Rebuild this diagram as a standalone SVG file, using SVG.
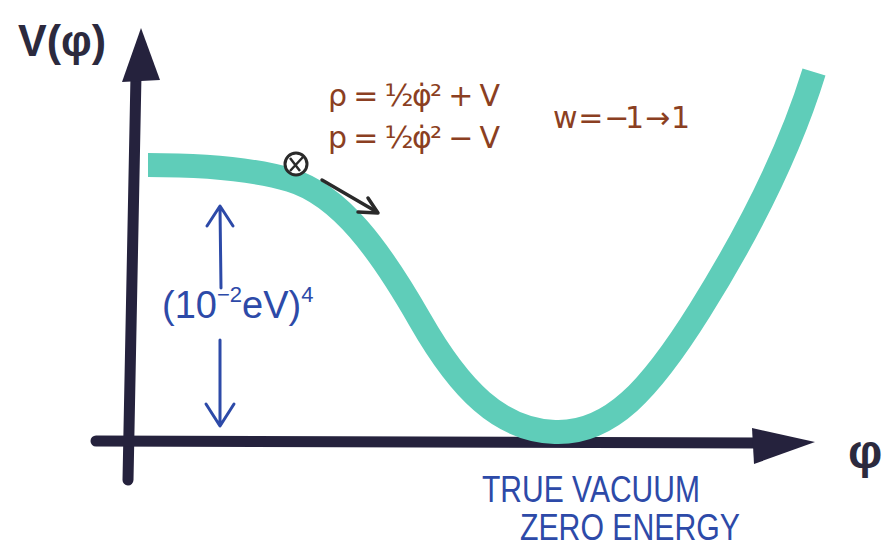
<svg xmlns="http://www.w3.org/2000/svg" width="886" height="554" viewBox="0 0 886 554">
<style>
.ax{stroke:#25223d;stroke-width:11;fill:none;stroke-linecap:round}
.axh{fill:#25223d}
.dark{fill:#2c2a3e;font-family:"Liberation Sans",sans-serif}
.br{fill:#8b3f22;font-family:"DejaVu Sans",sans-serif}
.bl{fill:#2d4aa8;font-family:"Liberation Sans",sans-serif}
.blst{stroke:#2d4aa8;stroke-width:3;fill:none;stroke-linecap:round;stroke-linejoin:round}
</style>
<rect width="886" height="554" fill="#ffffff"/>
<g id="axes">
<path class="ax" d="M128,480 L136,75"/>
<path class="axh" d="M141,28 L160,80 L122,82 Z"/>
<path class="ax" d="M96,441 L760,443"/>
<path class="axh" d="M815,442 L752,428 L754,464 Z"/>
</g>
<g id="curve">
<path d="M148,165 C200,165 250,168 290,180 C340,195 380,250 420,320 C460,390 500,430 555,432 C610,434 650,390 700,310 C750,230 790,150 814,72" stroke="#5fcdb9" stroke-width="24" fill="none" stroke-linecap="butt"/>
</g>
<g id="ball">
<circle cx="296" cy="164" r="11" fill="#fff" stroke="#2a2a2a" stroke-width="3"/>
<path d="M290,171 L303,157 M290,158 L300,171" stroke="#2a2a2a" stroke-width="2.5" fill="none"/>
</g>
<g id="connectors">
<path d="M322,180 L377,212" stroke="#2a2a2a" stroke-width="3.5" fill="none" stroke-linecap="round"/>
<path d="M358,212 L378,213 L368,198" stroke="#2a2a2a" stroke-width="3.5" fill="none" stroke-linecap="round" stroke-linejoin="round"/>
<path class="blst" d="M221,288 L220,207 M207,226 L220,206 L233,226"/>
<path class="blst" d="M220,340 L220,424 M206,404 L220,426 L234,404"/>
</g>
<g id="label-V">
<text class="dark" x="18" y="56" font-size="44" font-weight="bold" textLength="88" lengthAdjust="spacingAndGlyphs">V(φ)</text>
</g>
<g id="label-phi">
<text class="dark" x="848" y="468" font-size="48" font-weight="bold">φ</text>
</g>
<g id="equations">
<text class="br" x="328" y="106" font-size="30" textLength="172">ρ = ½φ̇² + V</text>
<text class="br" x="328" y="148" font-size="30" textLength="172">p = ½φ̇² − V</text>
<text class="br" x="553" y="128" font-size="30" textLength="137">w = −1 → 1</text>
</g>
<g id="scale-label">
<text class="bl" x="162" y="318" font-size="38">(10<tspan font-size="22" dy="-16">−2</tspan><tspan dy="16">eV)</tspan><tspan font-size="22" dy="-16">4</tspan></text>
</g>
<g id="vacuum-label">
<text class="bl" x="482" y="502" font-size="36" textLength="218" lengthAdjust="spacingAndGlyphs">TRUE VACUUM</text>
<text class="bl" x="520" y="540" font-size="36" textLength="220" lengthAdjust="spacingAndGlyphs">ZERO ENERGY</text>
</g>
</svg>
